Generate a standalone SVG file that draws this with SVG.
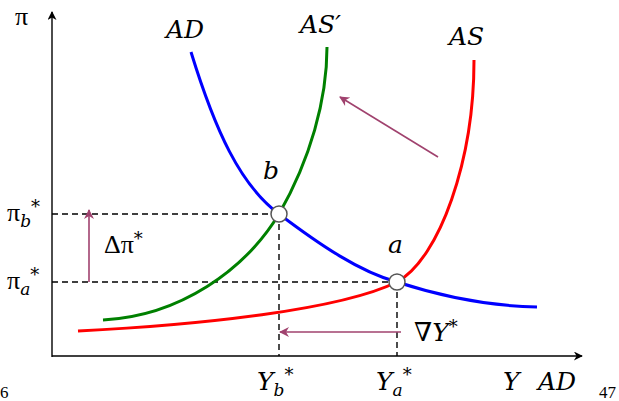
<svg xmlns="http://www.w3.org/2000/svg" width="619" height="401" viewBox="0 0 619 401">
<style>
.ax{stroke:#000;stroke-width:1.4;fill:none}
.dash{stroke:#000;stroke-width:1.4;stroke-dasharray:6,4;fill:none}
.cur{fill:none;stroke-width:3}
.mg{stroke:#a0426e;stroke-width:1.6;fill:none}
.t{font-family:"DejaVu Serif","Liberation Serif",serif;font-style:italic;font-size:25px;fill:#000}
.g{font-family:"Liberation Serif","DejaVu Serif",serif;font-size:26px;fill:#000}
.s{font-family:"DejaVu Serif",serif;font-style:normal;font-size:18px}
.sub{font-family:"DejaVu Serif",serif;font-style:italic;font-size:17px}
.pg{font-family:"Liberation Serif",serif;font-size:17px;fill:#000}
.pt{fill:#fff;stroke:#555;stroke-width:1.5}
</style>
<defs>
<marker id="ah" viewBox="0 0 10 10" refX="9" refY="5" markerWidth="12" markerHeight="9" orient="auto" markerUnits="userSpaceOnUse"><path d="M0,0 L10,5 L0,10 L3,5 z" fill="#000"/></marker>
<marker id="mh" viewBox="0 0 10 10" refX="9" refY="5" markerWidth="12" markerHeight="10" orient="auto" markerUnits="userSpaceOnUse"><path d="M0,0 L10,5 L0,10 L3,5 z" fill="#a0426e"/></marker>
</defs>
<g id="axes">
<line class="ax" x1="52" y1="357" x2="52" y2="12" marker-end="url(#ah)"/>
<line class="ax" x1="52" y1="356" x2="582" y2="356" marker-end="url(#ah)"/>
</g>
<g id="connectors">
<line class="dash" x1="52" y1="214" x2="279" y2="214"/>
<line class="dash" x1="52" y1="282" x2="397" y2="282"/>
<line class="dash" x1="279" y1="214" x2="279" y2="356"/>
<line class="dash" x1="397" y1="282" x2="397" y2="356"/>
<line class="mg" x1="89" y1="282" x2="89" y2="210" marker-end="url(#mh)"/>
<line class="mg" x1="401" y1="332" x2="280" y2="332" marker-end="url(#mh)"/>
<line class="mg" x1="438" y1="157" x2="340" y2="97" marker-end="url(#mh)"/>
</g>
<g id="curve-as"><path class="cur" stroke="#ff0000" d="M78,331 C200,325 340,310 397,282 C440,258 474,160 474,60"/></g>
<g id="curve-as2"><path class="cur" stroke="#008000" d="M103,320 C180,316 245,270 279,214 C310,160 327,100 327,47"/></g>
<g id="curve-ad"><path class="cur" stroke="#0000ff" d="M191,52 C215,130 240,185 279,214 C320,245 360,272 397,282 C440,296 490,306 537,307"/></g>
<g id="point-b"><circle class="pt" cx="279" cy="214" r="8"/></g>
<g id="point-a"><circle class="pt" cx="397" cy="282" r="8"/></g>
<g id="labels">
<text class="g" x="15" y="25">π</text>
<text class="t" x="166" y="38">AD</text>
<text class="t" x="300" y="33">AS′</text>
<text class="t" x="449" y="45">AS</text>
<text class="t" x="263" y="179">b</text>
<text class="t" x="388" y="253">a</text>
<text class="g" x="7" y="221">π<tspan class="sub" dy="6">b</tspan><tspan class="s" dy="-14">*</tspan></text>
<text class="g" x="7" y="289">π<tspan class="sub" dy="6">a</tspan><tspan class="s" dy="-14">*</tspan></text>
<text class="g" x="104" y="253">Δπ<tspan class="s" dy="-8">*</tspan></text>
<text class="g" x="414" y="341">∇<tspan class="t">Y</tspan><tspan class="s" dy="-8">*</tspan></text>
<text class="t" x="257" y="390">Y<tspan class="sub" dy="6">b</tspan><tspan class="s" dy="-15">*</tspan></text>
<text class="t" x="376" y="390">Y<tspan class="sub" dy="6">a</tspan><tspan class="s" dy="-15">*</tspan></text>
<text class="t" x="503" y="390">Y</text>
<text class="t" x="538" y="390">AD</text>
<text class="pg" x="599" y="398">47</text>
<text class="pg" x="0" y="398">6</text>
</g>
</svg>
